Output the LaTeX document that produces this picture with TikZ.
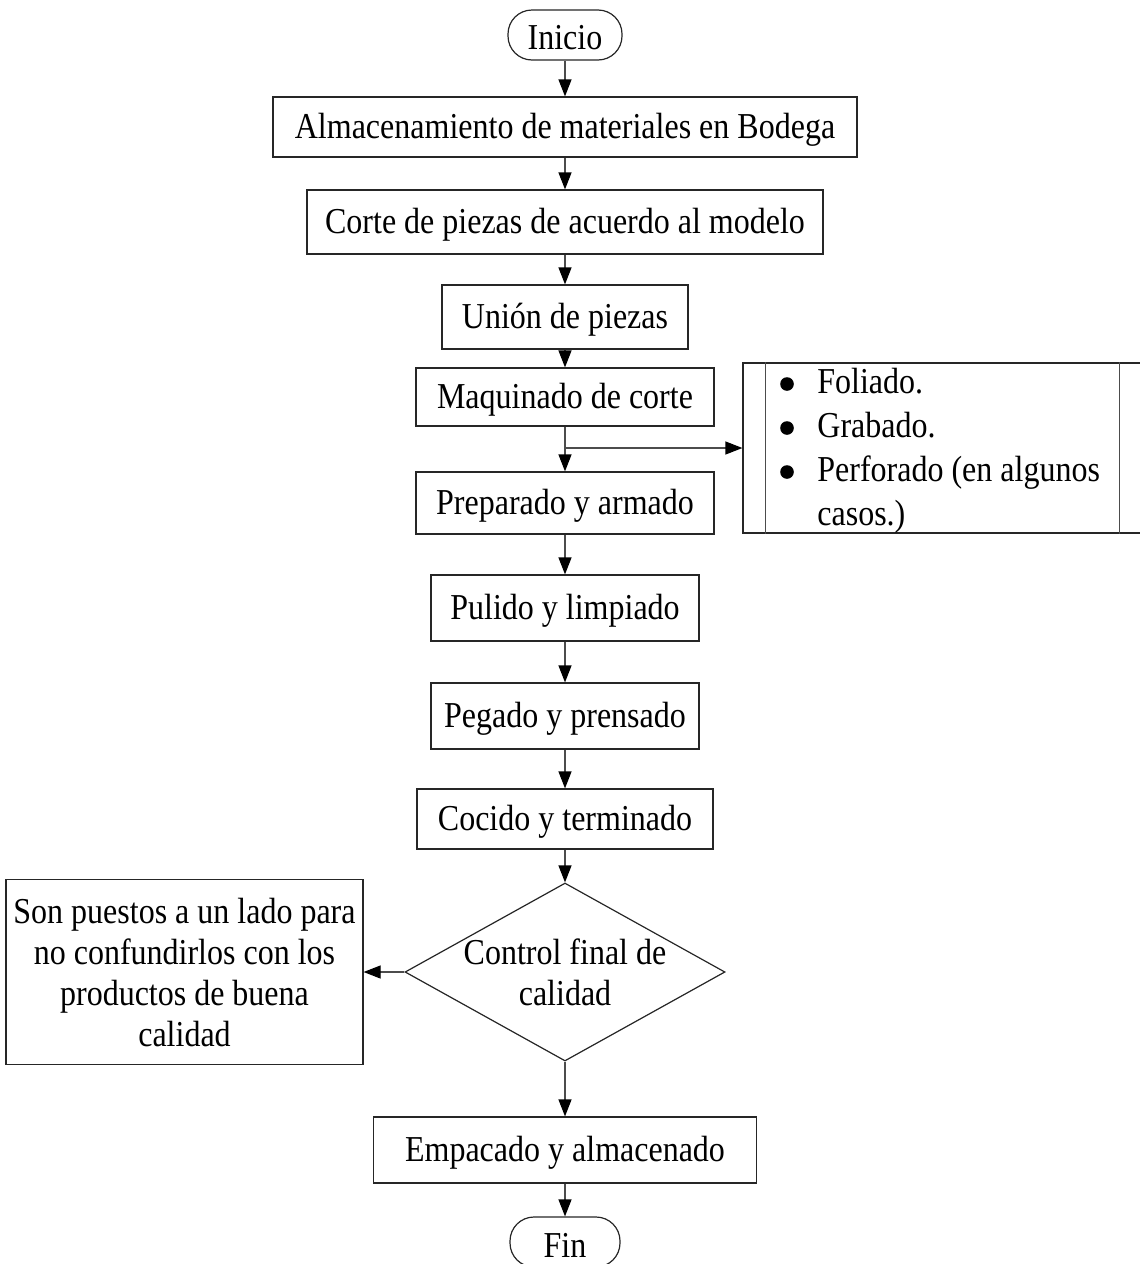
\documentclass[tikz,border=0pt]{standalone}
\usepackage{fontspec}
\usepackage{graphicx}
\setmainfont{Liberation Serif}
\usetikzlibrary{arrows.meta,shapes.geometric}
% vertically stretched text, single line and multi-line (both slightly lowered)
\newcommand\vtone[1]{\raisebox{-1.5pt}[\height][\depth]{\scalebox{1}[1.14]{#1}}}
\newcommand\vtmul[1]{\raisebox{-2.5pt}[\height][\depth]{\scalebox{1}[1.14]{\begin{tabular}{@{}c@{}}#1\end{tabular}}}}
\begin{document}
\begin{tikzpicture}[x=0.5pt,y=-0.5pt,
  txt/.style={font=\fontsize{16}{18}\selectfont},
  box/.style={txt,draw=black!85,line width=0.6pt,inner sep=0pt},
  term/.style={box,rounded corners=12pt},
  dia/.style={draw=black!85,line width=0.6pt,diamond,inner sep=0pt},
  conn/.style={draw=black!70,line width=0.6pt},
  arr/.style={conn,-{Triangle[length=8.5pt,width=6.5pt,black]}},
  bulletdot/.style={fill=black},
]
\useasboundingbox (0,0) rectangle (1140,1264);

\node[term,minimum width=57pt,minimum height=25pt] (ini) at (565,35) {\vtone{Inicio}};
\node[box,minimum width=292pt,minimum height=30pt] (alm) at (565,127) {\vtone{Almacenamiento de materiales en Bodega}};
\node[box,minimum width=258pt,minimum height=32pt] (cor) at (565,222) {\vtone{Corte de piezas de acuerdo al modelo}};
\node[box,minimum width=123pt,minimum height=32pt] (uni) at (565,317) {\vtone{Unión de piezas}};
\node[box,minimum width=149pt,minimum height=29pt] (maq) at (565,397) {\vtone{Maquinado de corte}};
\node[box,minimum width=149pt,minimum height=31pt] (pre) at (565,503) {\vtone{Preparado y armado}};
\node[box,minimum width=134pt,minimum height=33pt] (pul) at (565,608) {\vtone{Pulido y limpiado}};
\node[box,minimum width=134pt,minimum height=33pt] (peg) at (565,716) {\vtone{Pegado y prensado}};
\node[box,minimum width=148pt,minimum height=30pt] (coc) at (565,819) {\vtone{Cocido y terminado}};
\node[dia,minimum width=160pt,minimum height=89pt,
      label={[txt,inner sep=0pt]center:\vtmul{Control final de\\calidad}}] (dec) at (565,972) {};
\node[box,minimum width=178.5pt,minimum height=92.5pt] (rej) at (184.5,972)
  {\vtmul{Son puestos a un lado para\\no confundirlos con los\\productos de buena\\calidad}};
\node[box,minimum width=191.5pt,minimum height=33pt] (emp) at (565,1150) {\vtone{Empacado y almacenado}};
\node[term,minimum width=55pt,minimum height=25pt] (fin) at (565,1242) {\vtone{Fin}};

% side box
\node[box,minimum width=201pt,minimum height=85pt] (sid) at (944,448) {};
\draw[conn] ([xshift=11.5pt]sid.north west) -- ([xshift=11.5pt]sid.south west);
\draw[conn] ([xshift=-13pt]sid.north east) -- ([xshift=-13pt]sid.south east);
\node[anchor=west,inner sep=0pt,font=\fontsize{16}{19.3}\selectfont] (sidtxt) at (779,451)
  {\scalebox{1}[1.14]{\begin{tabular}{@{}p{19pt}@{}l@{}}
   & Foliado.\\
   & Grabado.\\
   & Perforado (en algunos\\
   & casos.)
   \end{tabular}}};
\fill[bulletdot] (787,384) circle (3.4pt);
\fill[bulletdot] (787,428) circle (3.4pt);
\fill[bulletdot] (787,472) circle (3.4pt);

% connectors
\draw[arr] (ini) -- (alm);
\draw[arr] (alm) -- (cor);
\draw[arr] (cor) -- (uni);
\draw[arr] (uni) -- (maq);
\draw[arr] (maq) -- (pre);
\coordinate (br) at (565,448);
\draw[arr] (br) -- (sid);
\draw[arr] (pre) -- (pul);
\draw[arr] (pul) -- (peg);
\draw[arr] (peg) -- (coc);
\draw[arr] (coc) -- (dec);
\draw[arr] (dec) -- (rej);
\draw[arr] (dec) -- (emp);
\draw[arr] (emp) -- (fin);
\end{tikzpicture}
\end{document}
